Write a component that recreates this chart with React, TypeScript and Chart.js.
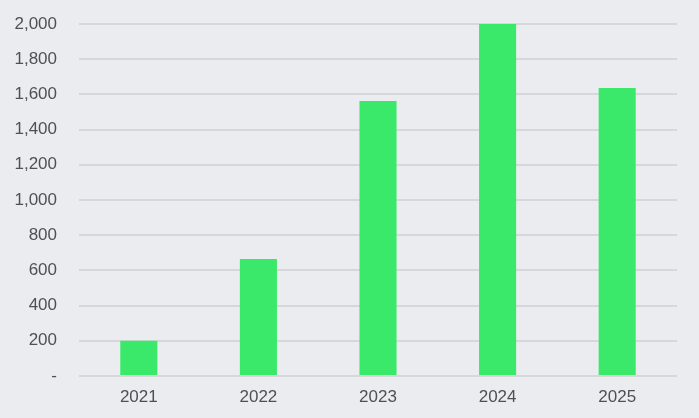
import React, { useEffect, useRef } from "react";
import { Chart, registerables } from "chart.js";

Chart.register(...registerables);

const categories = ["2021", "2022", "2023", "2024", "2025"];
const values = [200, 665, 1562, 2000, 1636];
const yTicks = [0, 200, 400, 600, 800, 1000, 1200, 1400, 1600, 1800, 2000];

export default function App() {
  const ref = useRef<HTMLCanvasElement | null>(null);
  useEffect(() => {
    document.body.style.margin = "0";
    document.body.style.background = "#ebecf0";
    const chart = new Chart(ref.current!, {
      type: "bar",
      data: {
        labels: categories,
        datasets: [
          {
            data: values,
            backgroundColor: "#3be96a",
            barPercentage: 0.31,
            categoryPercentage: 1,
          },
        ],
      },
      options: {
        animation: false,
        responsive: false,
        maintainAspectRatio: false,
        layout: { padding: { top: 24, right: 22, bottom: 0, left: 0 } },
        plugins: { legend: { display: false }, tooltip: { enabled: false } },
        scales: {
          x: {
            grid: { display: false, drawTicks: false },
            border: { display: false },
            afterFit: (axis: any) => {
              axis.height = 42;
              axis.paddingLeft = 0;
              axis.paddingRight = 0;
            },
            ticks: {
              color: "#505050",
              font: { family: "Liberation Sans, Arial, sans-serif", size: 17 },
              padding: 11,
            },
          },
          y: {
            min: 0,
            max: 2000,
            afterBuildTicks: (axis: any) => {
              axis.ticks = yTicks.map((v) => ({ value: v }));
            },
            afterFit: (axis: any) => {
              axis.width = 79;
              axis.paddingTop = 0;
              axis.paddingBottom = 0;
            },
            grid: { color: "#d6d7d9", lineWidth: 2, drawTicks: false },
            border: { display: false },
            ticks: {
              color: "#505050",
              font: { family: "Liberation Sans, Arial, sans-serif", size: 17 },
              padding: 22,
              callback: (v: any) => (Number(v) === 0 ? "-" : Number(v).toLocaleString("en-US")),
            },
          },
        },
      },
    });
    return () => chart.destroy();
  }, []);
  return (
    <div style={{ width: 699, height: 418, background: "#ebecf0" }}>
      <canvas ref={ref} width={699} height={418} style={{ display: "block" }} />
    </div>
  );
}
